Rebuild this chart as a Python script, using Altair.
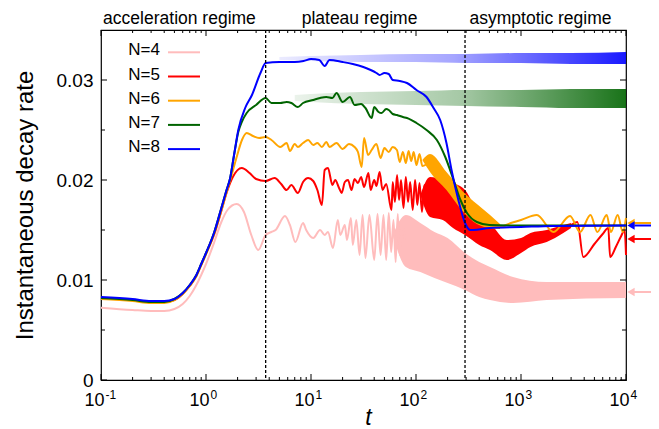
import altair as alt
import pandas as pd

# ---------------- data ----------------
labels = ["N=4", "N=5", "N=6", "N=7", "N=8"]
colors = ["#ffbcbc", "#ff0000", "#ffa500", "#006400", "#0000ff"]

pink_t = [0.1, 0.2, 0.3, 0.4, 0.5, 0.6, 0.7, 0.8, 0.9, 1.0, 1.2, 1.4, 1.6, 1.96, 2.3, 2.7, 3.15, 3.7, 4.2, 4.6,
          5.65, 6.3, 7.1, 8.4, 9.0, 10.5, 12.2, 13.5, 14.5, 16.2, 18, 19, 21, 22, 24, 25, 27, 29, 31, 33,
          36, 40, 43, 46, 49, 52, 55, 58, 61, 64, 67, 70, 74, 78]
pink_v = [0.00723, 0.0070, 0.0069, 0.0069, 0.0071, 0.0076, 0.0084, 0.0094, 0.0105, 0.0116, 0.0138, 0.0158, 0.0170,
          0.0176, 0.0168, 0.0145, 0.0130, 0.0145, 0.0148, 0.0150, 0.0164, 0.0155, 0.0138, 0.0157, 0.0150, 0.0142,
          0.0150, 0.0145, 0.0148, 0.0132, 0.0160, 0.0145, 0.0155, 0.0140, 0.0162, 0.0135, 0.0160, 0.0125, 0.0165,
          0.0122, 0.0165, 0.0120, 0.0166, 0.0125, 0.0165, 0.0120, 0.0167, 0.0128, 0.0160, 0.0118, 0.0166, 0.0125,
          0.0158, 0.0140]
pink_band_t = [60, 80, 110, 150, 200, 293, 400, 507, 840, 1757, 10000]
pink_band_lo = [0.0145, 0.0113, 0.0108, 0.0102, 0.0097, 0.0090, 0.0083, 0.0080, 0.0077, 0.0080, 0.0082]
pink_band_hi = [0.0145, 0.0165, 0.0157, 0.0148, 0.0142, 0.0127, 0.0118, 0.0113, 0.0103, 0.0098, 0.0098]

red_t = [0.1, 0.2, 0.3, 0.4, 0.5, 0.6, 0.7, 0.8, 0.9, 1.0, 1.2, 1.4, 1.58, 1.8, 2.19, 2.6, 3.0, 3.7, 4.5, 5.2,
         5.86, 6.5, 7.5, 8.4, 9.4, 10.5, 11.5, 12.7, 13.5, 14.5, 16, 17, 18.5, 19.6, 21, 22.5, 24.3, 26, 28, 30,
         32, 35.2, 37, 40, 42, 45, 48, 52, 58.5, 60, 63, 66, 69, 72, 76, 80, 84, 88, 93, 98,
         103, 108, 114, 120, 136, 160, 180, 200, 225, 260, 293, 340, 400, 450, 507, 600, 731, 850, 1000, 1230,
         1500, 1757, 2100, 2530, 3000, 3440, 3920, 5000, 6000, 6780, 7060, 8000, 9000, 9700, 10000]
red_v = [0.0082, 0.0080, 0.0078, 0.0078, 0.0080, 0.0086, 0.0094, 0.0103, 0.0115, 0.0126, 0.0146, 0.0169, 0.0188,
         0.0203, 0.0212, 0.0207, 0.0201, 0.0199, 0.0202, 0.0196, 0.0190, 0.0195, 0.0187, 0.0198, 0.0202, 0.0199,
         0.0190, 0.0175, 0.0210, 0.0212, 0.0195, 0.0200, 0.0192, 0.0187, 0.0198, 0.0200, 0.0190, 0.0201, 0.0197,
         0.0203, 0.0193, 0.0207, 0.0190, 0.0200, 0.0194, 0.0208, 0.0190, 0.0196, 0.0170, 0.0198, 0.0178, 0.0205,
         0.0180, 0.0200, 0.0172, 0.0203, 0.0178, 0.0198, 0.0170, 0.0200, 0.0175, 0.0197, 0.0168, 0.0195, 0.0180,
         0.0185, 0.0175, 0.0180, 0.0170, 0.0168, 0.0165, 0.0155, 0.0148, 0.0143, 0.0140, 0.0133, 0.0130, 0.0131,
         0.0134, 0.0139, 0.0142, 0.0144, 0.0148, 0.0151, 0.0155, 0.0158, 0.0123, 0.0136, 0.0146, 0.0152, 0.0123,
         0.0133, 0.0144, 0.0150, 0.0125]
red_band_t = [110, 136, 180, 225, 293, 400, 507, 731, 1000, 1230, 1757, 2530, 3000]
red_band_lo = [0.0185, 0.0163, 0.0160, 0.0152, 0.0145, 0.0135, 0.0130, 0.0120, 0.0127, 0.0133, 0.0138, 0.0147, 0.0152]
red_band_hi = [0.0185, 0.0203, 0.0200, 0.0197, 0.0190, 0.0165, 0.0157, 0.0140, 0.0142, 0.0147, 0.0150, 0.0155, 0.0157]

orange_t = [0.1, 0.2, 0.3, 0.4, 0.5, 0.6, 0.7, 0.8, 0.9, 1.0, 1.2, 1.4, 1.58, 1.69, 1.96, 2.2, 2.44, 2.8, 3.2, 3.7,
            4.2, 5.1, 5.86, 6.3, 7.0, 7.5, 8.4, 9.4, 10.5, 11.5, 12.7, 14, 15, 17.5, 20, 23, 26, 28, 30.4, 32,
            35, 37.8, 42, 46, 50, 55, 60, 65.8, 70, 75, 80, 85, 90, 95, 101, 108, 115, 136, 160, 195,
            230, 282, 330, 380, 450, 507, 631, 800, 1000, 1413, 2040, 2930, 3650, 4590, 5340, 6550, 7180, 8330,
            9330, 10000]
orange_v = [0.0081, 0.0079, 0.0077, 0.0077, 0.0080, 0.0086, 0.0094, 0.0103, 0.0115, 0.0126, 0.0147, 0.0170, 0.0189,
            0.0199, 0.0223, 0.0240, 0.0247, 0.0244, 0.0242, 0.0243, 0.0240, 0.0233, 0.0237, 0.0229, 0.0236, 0.0233,
            0.0237, 0.0240, 0.0235, 0.0237, 0.0233, 0.0238, 0.0233, 0.0237, 0.0231, 0.0236, 0.0233, 0.0228, 0.0213,
            0.0242, 0.0225, 0.0230, 0.0236, 0.0222, 0.0232, 0.0228, 0.0233, 0.0230, 0.0218, 0.0228, 0.0217, 0.0229,
            0.0219, 0.0228, 0.0215, 0.0226, 0.0214, 0.0217, 0.0210, 0.0198, 0.0190, 0.0177, 0.0170, 0.0165, 0.0160,
            0.0157, 0.0153, 0.0157, 0.0160, 0.0165, 0.0148, 0.0164, 0.0148, 0.0165, 0.0148, 0.0165, 0.0148, 0.0165,
            0.0148, 0.0162]
orange_band_t = [115, 136, 195, 282, 380, 507, 631]
orange_band_lo = [0.0220, 0.0208, 0.0190, 0.0168, 0.0156, 0.0152, 0.0151]
orange_band_hi = [0.0220, 0.0226, 0.0208, 0.0188, 0.0176, 0.0165, 0.0156]

green_t = [0.1, 0.2, 0.3, 0.4, 0.5, 0.6, 0.7, 0.8, 0.9, 1.0, 1.2, 1.4, 1.58, 1.69, 1.85, 2.03, 2.19, 2.44, 3.0, 3.7,
           4.2, 5.1, 5.86, 6.5, 7.5, 8.4, 10.5, 12.2, 14, 16, 17.5, 20, 23.5, 26, 30, 33, 37.8, 40, 44, 47,
           52, 55, 60, 65.8, 75, 82, 101, 126, 158, 190, 228, 265, 306, 380, 500, 1000, 10000]
green_v = [0.0082, 0.0080, 0.0078, 0.0078, 0.0081, 0.0087, 0.0095, 0.0104, 0.0116, 0.0127, 0.0148, 0.0172, 0.0191,
           0.0201, 0.0225, 0.0248, 0.0258, 0.0267, 0.0275, 0.0282, 0.0277, 0.0277, 0.0278, 0.0277, 0.0273, 0.0277,
           0.0280, 0.0282, 0.0283, 0.0282, 0.0287, 0.0278, 0.0283, 0.0275, 0.0276, 0.0272, 0.0262, 0.0273, 0.0268,
           0.0267, 0.0271, 0.0270, 0.0266, 0.0265, 0.0263, 0.0262, 0.0257, 0.0250, 0.0240, 0.0223, 0.0200, 0.0180,
           0.0167, 0.0158, 0.0155, 0.01545, 0.01545]
green_cloud_t = [7, 10, 30, 100, 300, 1000, 3000, 10000]
green_cloud_lo = [0.0279, 0.0278, 0.0276, 0.0275, 0.0274, 0.0273, 0.0272, 0.0272]
green_cloud_hi = [0.0285, 0.0286, 0.0288, 0.0289, 0.0290, 0.0290, 0.0291, 0.0291]

blue_t = [0.1, 0.2, 0.3, 0.4, 0.5, 0.6, 0.7, 0.8, 0.9, 1.0, 1.2, 1.4, 1.58, 1.69, 1.85, 2.03, 2.36, 2.74, 3.3, 3.7,
          5, 7, 8.5, 10, 12, 13.5, 15, 20, 25, 31.5, 37, 42, 45, 50, 55, 60, 70, 82, 101, 126,
          147, 170, 195, 218, 240, 265, 293, 330, 351, 500, 1000, 2000, 10000]
blue_v = [0.0083, 0.0081, 0.0079, 0.0079, 0.0081, 0.0087, 0.0095, 0.0104, 0.0116, 0.0127, 0.0148, 0.0172, 0.0191,
          0.0201, 0.0225, 0.0250, 0.0272, 0.0285, 0.0307, 0.0317, 0.0318, 0.0318, 0.0319, 0.0321, 0.0320, 0.0314,
          0.0320, 0.0318, 0.0316, 0.0313, 0.0310, 0.0307, 0.0305, 0.0307, 0.0306, 0.0300, 0.0299, 0.0297, 0.0290,
          0.0283, 0.0272, 0.0260, 0.0237, 0.0210, 0.0190, 0.0172, 0.0157, 0.0150, 0.0150, 0.0152, 0.0153, 0.0154,
          0.01545]
blue_cloud_t = [5, 10, 30, 100, 300, 1000, 3000, 10000]
blue_cloud_lo = [0.0320, 0.0319, 0.0318, 0.0318, 0.0317, 0.0317, 0.0316, 0.0316]
blue_cloud_hi = [0.0323, 0.0324, 0.0325, 0.0326, 0.0326, 0.0327, 0.0327, 0.0328]

regime_t = [3.7, 293]
regime_label_t = [0.559, 29, 1535]
regime_labels = ["acceleration regime", "plateau regime", "asymptotic regime"]

arrow_v = [0.0088, 0.0141, 0.0157, 0.01545]
arrow_colors = ["#ffbcbc", "#ff0000", "#ffa500", "#0000ff"]

x_major = [0.1, 1, 10, 100, 1000, 10000]
x_exponents = ["-1", "0", "1", "2", "3", "4"]
x_minor = [k * 10.0 ** e for e in range(-1, 4) for k in range(2, 10)]
y_major = [0, 0.01, 0.02, 0.03]
y_minor = [0.005, 0.015, 0.025]

for a, b in [(pink_t, pink_v), (red_t, red_v), (orange_t, orange_v), (green_t, green_v), (blue_t, blue_v)]:
    assert len(a) == len(b), (len(a), len(b))
for a, b, c in [(pink_band_t, pink_band_lo, pink_band_hi), (red_band_t, red_band_lo, red_band_hi),
                (orange_band_t, orange_band_lo, orange_band_hi), (green_cloud_t, green_cloud_lo, green_cloud_hi),
                (blue_cloud_t, blue_cloud_lo, blue_cloud_hi)]:
    assert len(a) == len(b) == len(c)

# ---------------- chart ----------------
W, H = 525, 350
FONT = "Liberation Sans"

x_scale = alt.Scale(type="log", domain=[0.1, 10000], nice=False)
y_scale = alt.Scale(domain=[0, 0.035], nice=False, zero=True)

x_axis = alt.Axis(values=x_major, ticks=False, domain=False, grid=False, labels=False,
                  title="t", titleFont=FONT, titleFontSize=23, titleFontStyle="italic",
                  titleFontWeight="normal", titleColor="black", titleBaseline="alphabetic",
                  titleX=267, titleY=44)
y_axis = alt.Axis(values=y_major, ticks=False, domain=False, grid=False, format=".2~f", labelFlush=False,
                  labelFont=FONT, labelFontSize=19, labelColor="black", labelPadding=8,
                  title="Instantaneous decay rate", titleFont=FONT, titleFontSize=24,
                  titleFontWeight="normal", titleColor="black", titlePadding=19)

color_scale = alt.Scale(domain=labels, range=colors)


def X(field="t"):
    return alt.X(f"{field}:Q", scale=x_scale, axis=x_axis)


def Y(field="v"):
    return alt.Y(f"{field}:Q", scale=y_scale, axis=y_axis)


def line_layer(t, v, name, width=2.0):
    df = pd.DataFrame({"t": t, "v": v, "N": name})
    return alt.Chart(df).mark_line(strokeWidth=width, interpolate="monotone").encode(
        x=X(), y=Y(), color=alt.Color("N:N", scale=color_scale, legend=None))


def band_layer(t, lo, hi, color):
    df = pd.DataFrame({"t": t, "lo": lo, "hi": hi})
    return alt.Chart(df).mark_area(color=color, interpolate="monotone").encode(
        x=X(), y=Y("lo"), y2="hi:Q")


def cloud_layer(t, lo, hi, rgb):
    df = pd.DataFrame({"t": t, "lo": lo, "hi": hi})
    grad = alt.Gradient(gradient="linear", x1=0, x2=1, y1=0, y2=0,
                        stops=[alt.GradientStop(color=f"rgba({rgb},0.08)", offset=0),
                               alt.GradientStop(color=f"rgba({rgb},0.35)", offset=0.5),
                               alt.GradientStop(color=f"rgba({rgb},0.9)", offset=1)])
    return alt.Chart(df).mark_area(color=grad, interpolate="monotone").encode(x=X(), y=Y("lo"), y2="hi:Q")


layers = [
    cloud_layer(green_cloud_t, green_cloud_lo, green_cloud_hi, "0,100,0"),
    cloud_layer(blue_cloud_t, blue_cloud_lo, blue_cloud_hi, "0,0,255"),
    band_layer(pink_band_t, pink_band_lo, pink_band_hi, colors[0]),
    line_layer(pink_t, pink_v, labels[0]),
    band_layer(red_band_t, red_band_lo, red_band_hi, colors[1]),
    line_layer(red_t, red_v, labels[1]),
    band_layer(orange_band_t, orange_band_lo, orange_band_hi, colors[2]),
    line_layer(orange_t, orange_v, labels[2]),
    line_layer(green_t, green_v, labels[3]),
    line_layer(blue_t, blue_v, labels[4]),
]

# regime separators
layers.append(alt.Chart(pd.DataFrame({"t": regime_t})).mark_rule(
    color="black", strokeDash=[3, 2], strokeWidth=1.3).encode(x=X()))

# regime titles above the frame
layers.append(alt.Chart(pd.DataFrame({"t": regime_label_t, "label": regime_labels})).mark_text(
    font=FONT, fontSize=17.5, color="black", align="center", baseline="middle").encode(
    x=X(), y=alt.value(-11), text="label:N"))

# x tick labels: "10" with a raised exponent
xlab = pd.DataFrame({"t": x_major, "base": ["10"] * len(x_major), "exp": x_exponents})
layers.append(alt.Chart(xlab).mark_text(font=FONT, fontSize=18, color="black", align="right",
                                        baseline="alphabetic", dx=3.5).encode(
    x=X(), y=alt.value(H + 26), text="base:N"))
layers.append(alt.Chart(xlab).mark_text(font=FONT, fontSize=12, color="black", align="left",
                                        baseline="alphabetic", dx=4.5).encode(
    x=X(), y=alt.value(H + 19), text="exp:N"))

# legend (labels left of the line samples, as in the reference)
for i, (lab, col) in enumerate(zip(labels, colors)):
    yy = 22.3 + 24.2 * i
    one = pd.DataFrame({"N": [lab]})
    layers.append(alt.Chart(one).mark_text(font=FONT, fontSize=17, color="black", align="right",
                                           baseline="middle").encode(
        x=alt.value(59), y=alt.value(yy - 2), text="N:N"))
    layers.append(alt.Chart(one).mark_rule(strokeWidth=2, color=col).encode(
        x=alt.value(67), x2=alt.value(99), y=alt.value(yy)))

# arrows at the right edge (time averages)
arrow_df = pd.DataFrame({"v": arrow_v, "c": arrow_colors})
layers.append(alt.Chart(arrow_df).mark_rule(strokeWidth=2).encode(
    y=Y(), x=alt.value(W + 4), x2=alt.value(W + 28), color=alt.Color("c:N", scale=None)))
layers.append(alt.Chart(arrow_df).mark_point(shape="triangle-left", filled=True, size=70, opacity=1).encode(
    y=Y(), x=alt.value(W + 5), color=alt.Color("c:N", scale=None)))

# inward ticks on all four sides
xt_major = pd.DataFrame({"t": x_major})
xt_minor = pd.DataFrame({"t": x_minor})
yt_major = pd.DataFrame({"v": y_major})
yt_minor = pd.DataFrame({"v": y_minor})
tick = dict(color="black", strokeWidth=1)
for df, L in [(xt_major, 6), (xt_minor, 3)]:
    layers.append(alt.Chart(df).mark_rule(**tick).encode(x=X(), y=alt.value(H), y2=alt.value(H - L)))
    layers.append(alt.Chart(df).mark_rule(**tick).encode(x=X(), y=alt.value(0), y2=alt.value(L)))
for df, L in [(yt_major, 6), (yt_minor, 4)]:
    layers.append(alt.Chart(df).mark_rule(**tick).encode(y=Y(), x=alt.value(0), x2=alt.value(L)))
    layers.append(alt.Chart(df).mark_rule(**tick).encode(y=Y(), x=alt.value(W), x2=alt.value(W - L)))

chart = alt.layer(*layers).properties(
    width=W, height=H,
    autosize=alt.AutoSizeParams(type="none"),
    padding={"left": 93, "top": 22, "right": 25, "bottom": 49},
    background="white",
).configure_view(stroke="black", strokeWidth=1.2)

chart.save("out.html", embed_options={"renderer": "svg", "actions": False})
